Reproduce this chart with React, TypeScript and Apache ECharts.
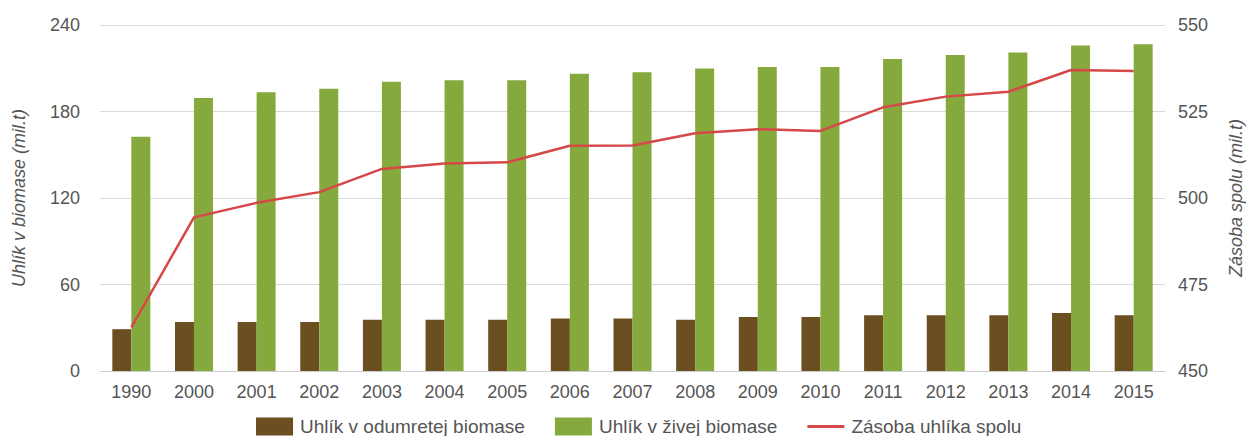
import React, { useEffect, useRef } from "react";
import * as echarts from "echarts";

const categories = ["1990", "2000", "2001", "2002", "2003", "2004", "2005", "2006", "2007", "2008", "2009", "2010", "2011", "2012", "2013", "2014", "2015"];
const deadBiomass = [29, 34, 34, 34, 35.6, 35.6, 35.6, 36.5, 36.5, 35.6, 37.5, 37.5, 38.6, 38.6, 38.6, 40.2, 38.6];
const liveBiomass = [162.5, 189.4, 193.3, 195.8, 200.7, 201.6, 201.6, 206.2, 207.2, 209.9, 210.9, 210.9, 216.4, 219.2, 221.0, 225.7, 226.6];
const totalStock = [462.6, 494.4, 498.6, 501.7, 508.4, 510.0, 510.3, 515.1, 515.2, 518.7, 519.9, 519.4, 526.2, 529.3, 530.7, 537.0, 536.7];

const seriesNames = ["Uhlík v odumretej biomase", "Uhlík v živej biomase", "Zásoba uhlíka spolu"];
const leftAxisName = "Uhlík v biomase (mil.t)";
const rightAxisName = "Zásoba spolu (mil.t)";

const FONT = "'Liberation Sans', Arial, sans-serif";
const TEXT_COLOR = "#555";
const RED = "#d64848";

export default function App() {
  const ref = useRef<HTMLDivElement>(null);
  useEffect(() => {
    if (!ref.current) return;
    const chart = echarts.init(ref.current, null, { renderer: "svg" });
    chart.setOption({
      animation: false,
      textStyle: { fontFamily: FONT },
      grid: { left: 100, right: 78, top: 25, bottom: 65, containLabel: false },
      legend: {
        top: 417,
        left: 256,
        padding: 0,
        itemWidth: 37,
        itemHeight: 18,
        itemGap: 30,
        textStyle: { fontSize: 19, color: TEXT_COLOR, fontFamily: FONT, padding: [0, 0, 0, 2] },
        data: [
          { name: seriesNames[0], icon: "rect" },
          { name: seriesNames[1], icon: "rect" },
          { name: seriesNames[2], icon: "path://M0,0H36V3H0Z", itemStyle: { color: RED } },
        ],
      },
      xAxis: {
        type: "category",
        data: categories,
        axisLine: { lineStyle: { color: "#ccc" } },
        axisTick: { show: false },
        axisLabel: { fontSize: 18, color: TEXT_COLOR, margin: 12 },
      },
      yAxis: [
        {
          type: "value",
          min: 0,
          max: 240,
          interval: 60,
          name: leftAxisName,
          nameLocation: "middle",
          nameRotate: 90,
          nameGap: 72,
          nameTextStyle: { fontSize: 18, fontStyle: "italic", color: TEXT_COLOR },
          axisLabel: { fontSize: 18, color: TEXT_COLOR, margin: 20 },
          splitLine: { lineStyle: { color: "#d9d9d9" } },
          axisLine: { show: false },
          axisTick: { show: false },
        },
        {
          type: "value",
          min: 450,
          max: 550,
          interval: 25,
          position: "right",
          name: rightAxisName,
          nameLocation: "middle",
          nameRotate: 90,
          nameGap: 62,
          nameTextStyle: { fontSize: 18, fontStyle: "italic", color: TEXT_COLOR },
          axisLabel: { fontSize: 18, color: TEXT_COLOR, margin: 13 },
          splitLine: { show: false },
          axisLine: { show: false },
          axisTick: { show: false },
        },
      ],
      series: [
        {
          name: seriesNames[0],
          type: "bar",
          data: deadBiomass,
          barWidth: 19,
          barGap: "0%",
          itemStyle: { color: "#6b4f21" },
        },
        {
          name: seriesNames[1],
          type: "bar",
          data: liveBiomass,
          barWidth: 19,
          barGap: "0%",
          itemStyle: { color: "#86a93e" },
        },
        {
          name: seriesNames[2],
          type: "line",
          yAxisIndex: 1,
          data: totalStock,
          symbol: "none",
          lineStyle: { color: RED, width: 2.5 },
          itemStyle: { color: RED },
        },
      ],
    });
    return () => chart.dispose();
  }, []);
  return (
    <div
      ref={ref}
      style={{ position: "absolute", left: 0, top: 0, width: 1253, height: 436, background: "#fff" }}
    />
  );
}
